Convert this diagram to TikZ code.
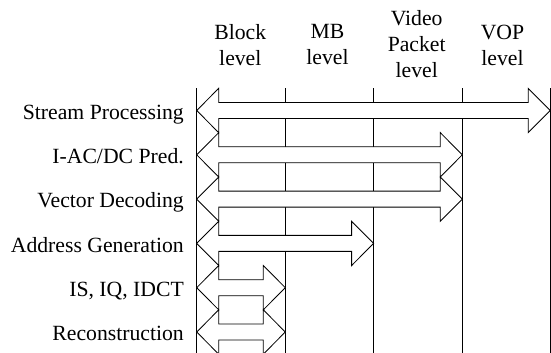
\documentclass[tikz,border=0pt]{standalone}
\usepackage{fontspec}
\setmainfont{Liberation Serif}
\begin{document}
\begin{tikzpicture}[x=1pt,y=-1pt,
  grid/.style={line width=1.1pt},
  arrowbox/.style={draw=black,fill=white,line width=0.85pt,line join=miter},
  rowlabel/.style={anchor=base east,inner sep=0pt,font=\fontsize{21.7}{26}\selectfont},
  colhead/.style={anchor=center,align=center,inner sep=0pt,font=\fontsize{21.7}{26}\selectfont}]
\useasboundingbox (0,0) rectangle (551,353);

% level boundaries
\foreach \x/\n in {196.7/a,285.3/b,373.6/c,462.3/d,550.2/e} {
  \coordinate (top\n) at (\x,88.3);
  \coordinate (bot\n) at (\x,353);
  \draw[grid] (top\n) -- (bot\n);
}

% column headings
\node[colhead] (hblock) at (240.3,45.0) {Block\\level};
\node[colhead] (hmb)    at (327.5,45.0) {MB\\level};
\node[colhead] (hvp)    at (416.7,44.3) {Video\\Packet\\level};
\node[colhead] (hvop)   at (502.5,45.0) {VOP\\level};

% double-headed block arrow: left tip x, right tip x, centre y
\newcommand{\spanarrow}[3]{%
  \draw[arrowbox] (#1,#3) -- ++(22,-22.15) -- ++(0,14.15) -- (#2-22,#3-8)
    -- ++(0,-14.15) -- (#2,#3) -- ++(-22,22.15) -- ++(0,-14.15)
    -- (#1+22,#3+8) -- ++(0,14.15) -- cycle;}

\spanarrow{196.7}{550.2}{110.5}
\spanarrow{196.7}{462.3}{154.8}
\spanarrow{196.7}{462.3}{199.1}
\spanarrow{196.7}{373.6}{243.4}
\spanarrow{196.7}{285.3}{287.7}
\spanarrow{196.7}{285.3}{332.0}

% task labels
\node[rowlabel] (lstream) at (184,119.3) {Stream Processing};
\node[rowlabel] (lacdc)   at (184,163.4) {I-AC/DC Pred.};
\node[rowlabel] (lvec)    at (184,207.7) {Vector Decoding};
\node[rowlabel] (laddr)   at (184,252.0) {Address Generation};
\node[rowlabel] (lidct)   at (184,296.3) {IS, IQ, IDCT};
\node[rowlabel] (lrec)    at (184,340.6) {Reconstruction};
\end{tikzpicture}
\end{document}
